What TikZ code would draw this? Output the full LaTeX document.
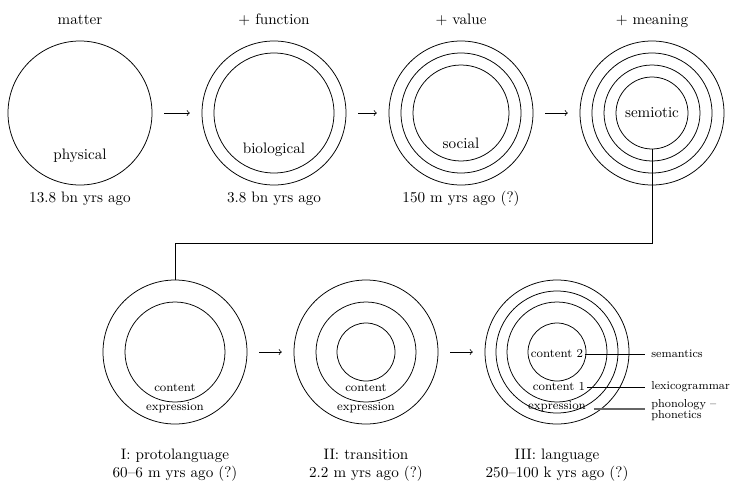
\documentclass[tikz,border=0pt]{standalone}
\usepackage{tikz}

\begin{document}
\begin{tikzpicture}[x=0.66pt, y=-0.66pt,
    ring/.style={circle, draw, line width=0.5pt, inner sep=0pt, minimum size=#1*1.32pt},
    arr/.style={-to, line width=0.5pt, shorten <=7.8pt, shorten >=7.8pt},
    small/.style={inner sep=1pt, font=\fontsize{8}{9.5}\selectfont},
    side/.style={inner sep=4pt, font=\fontsize{7.6}{9}\selectfont, anchor=west, align=left}]

    % Frame of the picture
    \useasboundingbox (0,0) rectangle (731,484);

    % Row heights
    \def\ytop{113}
    \def\ybot{352}

    % Top row: matter, function, value, meaning
    \node[ring=72] (m1) at (80,\ytop) {};
    \foreach \r [count=\i] in {72,60}    {\node[ring=\r] (f\i) at (274,\ytop) {};}
    \foreach \r [count=\i] in {72,60,48} {\node[ring=\r] (v\i) at (461,\ytop) {};}
    \foreach \r [count=\i] in {72,60,48,36} {\node[ring=\r] (s\i) at (652,\ytop) {};}

    \node[anchor=base] (tm) at (80,24)  {matter};
    \node[anchor=base] (tf) at (274,24) {+ function};
    \node[anchor=base] (tv) at (461,24) {+ value};
    \node[anchor=base] (ts) at (652,24) {+ meaning};

    \node[anchor=base] (lm) at (80,159)  {physical};
    \node[anchor=base] (lf) at (274,153) {biological};
    \node[anchor=base] (lv) at (461,148) {social};
    \node (ls) at (652,\ytop) {semiotic};

    \node[anchor=base] (dm) at (80,202)  {13.8 bn yrs ago};
    \node[anchor=base] (df) at (274,202) {3.8 bn yrs ago};
    \node[anchor=base] (dv) at (461,202) {150 m yrs ago (?)};

    \draw[arr] (m1.east) -- (f1.west);
    \draw[arr] (f1.east) -- (v1.west);
    \draw[arr] (v1.east) -- (s1.west);

    % Bottom row: protolanguage, transition, language
    \foreach \r [count=\i] in {72,50}       {\node[ring=\r] (p\i) at (175,\ybot) {};}
    \foreach \r [count=\i] in {72,50,29}    {\node[ring=\r] (t\i) at (366,\ybot) {};}
    \foreach \r [count=\i] in {72,61,50,29} {\node[ring=\r] (g\i) at (557,\ybot) {};}

    % Link from semiotic down to protolanguage
    \coordinate (bend) at (175,243);
    \draw[line width=0.5pt] (s4.south) |- (bend) -- (p1.north);

    \node[small, anchor=base] (pc) at (175,391) {content};
    \node[small, anchor=base] (pe) at (175,410) {expression};
    \node[small, anchor=base] (tc) at (366,391) {content};
    \node[small, anchor=base] (te) at (366,410) {expression};

    \node[small] (gc2) at (557,354) {content 2};
    \node[small] (gc1) at (559,387) {content 1};
    \node[small] (ge)  at (557,407) {expression};

    \node[side] (sem) at (645,354) {semantics};
    \node[side] (lex) at (645,387) {lexicogrammar};
    \node[side, text depth=0pt] (pho) at (645,409) {phonology --\\[-2pt]phonetics};

    \draw[line width=0.6pt] (gc2) -- (sem);
    \draw[line width=0.6pt] (gc1) -- (lex);
    \draw[line width=0.8pt, black!60, shorten <=4pt] (ge.east |- 0,409) -- (pho.west);

    \node[anchor=base] (n1) at (175,459) {I: protolanguage};
    \node[anchor=base] (a1) at (175,477) {60--6 m yrs ago (?)};
    \node[anchor=base] (n2) at (366,459) {II: transition};
    \node[anchor=base] (a2) at (366,477) {2.2 m yrs ago (?)};
    \node[anchor=base] (n3) at (557,459) {III: language};
    \node[anchor=base] (a3) at (557,477) {250--100 k yrs ago (?)};

    \draw[arr] (p1.east) -- (t1.west);
    \draw[arr] (t1.east) -- (g1.west);

\end{tikzpicture}
\end{document}
